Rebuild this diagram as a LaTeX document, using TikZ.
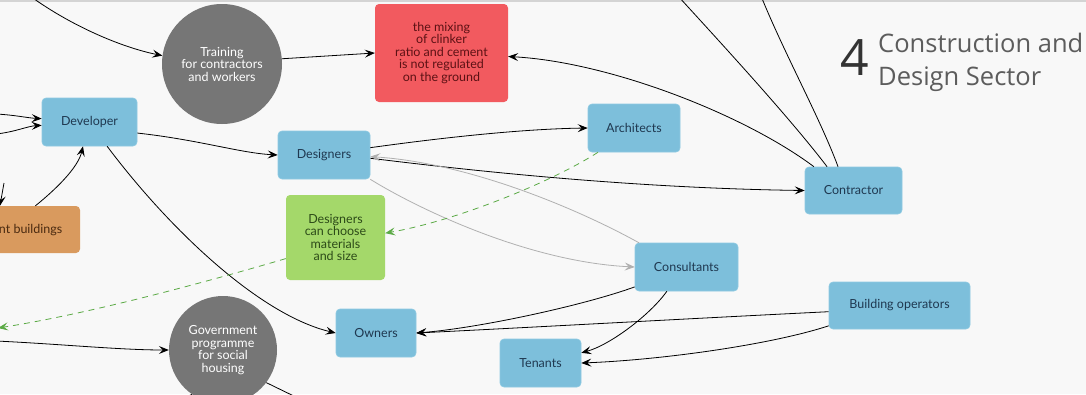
\documentclass[tikz,border=0pt]{standalone}
\usepackage{fontspec}
\setmainfont{Lato}
\newfontfamily\titlefont{Open Sans}
\usetikzlibrary{arrows.meta}
\definecolor{bg}{HTML}{F8F8F8}
\definecolor{nodeblue}{HTML}{7DBFDB}
\definecolor{nodeblueedge}{HTML}{8ECAE2}
\definecolor{navy}{HTML}{1F3850}
\definecolor{discgrey}{HTML}{767676}
\definecolor{alertred}{HTML}{F25A5F}
\definecolor{alerttext}{HTML}{5C1114}
\definecolor{leafgreen}{HTML}{A4D86A}
\definecolor{leaftext}{HTML}{2C4A18}
\definecolor{clay}{HTML}{D99A5E}
\definecolor{claytext}{HTML}{4A2A10}
\definecolor{softgrey}{HTML}{B0B0B0}
\definecolor{dashgreen}{HTML}{5BAA45}
\definecolor{titlegrey}{HTML}{5C5C5C}
\begin{document}
\begin{tikzpicture}[x=1pt,y=-1pt,
  label text/.style={font=\fontsize{12.5}{12.5}\selectfont, align=center},
  box/.style={rectangle, rounded corners=4pt, fill=nodeblue, draw=nodeblueedge,
    line width=0.6pt, text=navy, inner sep=0pt, label text},
  disc/.style={circle, fill=discgrey, text=white, inner sep=0pt, label text},
  tip/.style={-{Stealth[length=10pt,width=8pt,inset=4pt]}},
  arr/.style={tip, line width=0.8pt, black},
  faint/.style={tip, line width=0.8pt, softgrey},
  hint/.style={tip, line width=0.8pt, dashgreen, dash pattern=on 6pt off 5pt},
  plain/.style={line width=0.8pt, black}]

\useasboundingbox (0,0) rectangle (1086,394);
\clip (0,0) rectangle (1086,394);
\fill[bg] (0,0) rectangle (1086,394);
\draw[line width=2pt, black!17] (0,1) -- (1086,1);

% actors
\node[box, minimum width=95pt, minimum height=48pt] (dev) at (89.5,122) {Developer};
\node[box, minimum width=92pt, minimum height=48pt] (des) at (324,155) {Designers};
\node[box, minimum width=92pt, minimum height=48pt] (arch) at (634,128) {Architects};
\node[box, minimum width=97pt, minimum height=47pt] (contr) at (853.5,190.5) {Contractor};
\node[box, minimum width=103pt, minimum height=48pt] (cons) at (686.5,267) {Consultants};
\node[box, minimum width=141pt, minimum height=47pt] (bop) at (899.5,305.5) {Building operators};
\node[box, minimum width=80pt, minimum height=48pt] (own) at (376,333) {Owners};
\node[box, minimum width=81pt, minimum height=48pt] (ten) at (540.5,363) {Tenants};

% issues and measures
\node[rectangle, rounded corners=4pt, fill=alertred, text=alerttext, inner sep=0pt,
  minimum width=133pt, minimum height=98pt, label text] (red) at (441.5,53)
  {the mixing\\of clinker\\ratio and cement\\is not regulated\\on the ground};
\node[rectangle, rounded corners=4pt, fill=leafgreen, text=leaftext, inner sep=0pt,
  minimum width=99pt, minimum height=85pt, label text] (green) at (335.5,237.5)
  {Designers\\can choose\\materials\\and size};
\node[rectangle, rounded corners=4pt, fill=clay, inner sep=0pt,
  minimum width=140pt, minimum height=47pt] (orb) at (10,229.5) {};
\node[anchor=east, text=claytext, label text, inner sep=0pt] (orbtext) at (62.5,230) {nt buildings};
\node[disc, minimum size=120pt] (train) at (222,64) {Training\\for contractors\\and workers};
\node[disc, minimum size=108pt] (gov) at (223,350) {Government\\programme\\for social\\housing};

% heading
\node[anchor=base west, inner sep=0pt, text=black!80, font=\titlefont\fontsize{50}{50}\selectfont] (num) at (840,75) {4};
\node[anchor=base west, inner sep=0pt, text=titlegrey, font=\titlefont\fontsize{25.5}{25.5}\selectfont] (head1) at (878,52) {Construction and};
\node[anchor=base west, inner sep=0pt, text=titlegrey, font=\titlefont\fontsize{25.5}{25.5}\selectfont] (head2) at (878,85) {Design Sector};

% loose ends leading outside the frame
\coordinate (tl) at (30,-4);
\coordinate (tc1) at (678,-4);
\coordinate (tc2) at (761,-4);
\coordinate (lw1) at (-4,114);
\coordinate (lw2) at (-4,134);
\coordinate (lw3) at (4,183);
\coordinate (lw4) at (-2,328);
\coordinate (lw5) at (-4,341);
\coordinate (bt1) at (302,400);
\coordinate (bt2) at (180,400);

% connectors
\draw[arr] (tl) .. controls (70,25) and (120,47) .. (train.172);
\draw[arr] (train.5) -- (red.west);
\draw[arr] (contr.149) .. controls (745,115) and (610,62) .. (red.-3);
\draw[plain] (tc1) .. controls (720,42) and (790,118) .. (contr.138);
\draw[plain] (tc2) .. controls (785,55) and (820,118) .. (contr.123);
\draw[arr] (lw1) .. controls (15,115) and (28,118) .. (dev.176);
\draw[arr] (lw2) .. controls (15,132) and (28,126) .. (dev.-176);
\draw[arr] (orb.43) .. controls (55,190) and (78,168) .. (dev.-105);
\draw[arr] (lw3) -- (orb.113);
\draw[arr] (dev.-13) .. controls (200,140) and (240,153) .. (des.west);
\draw[arr] (dev.-54) .. controls (170,230) and (260,315) .. (own.west);
\draw[arr] (des.9) .. controls (440,138) and (520,129) .. (arch.west);
\draw[arr] (des.-4) .. controls (450,168) and (620,188) .. (contr.west);
\draw[faint] (cons.153) .. controls (580,210) and (470,163) .. (des.-2);
\draw[faint] (des.south east) .. controls (420,210) and (530,262) .. (cons.west);
\draw[hint] (arch.-146) .. controls (555,180) and (460,220) .. (green.5);
\draw[hint] (green.-157) .. controls (230,275) and (100,312) .. (lw4);
\draw[arr] (lw5) .. controls (60,344) and (120,350) .. (gov.west);
\draw[plain] (gov.-37) -- (bt1);
\draw[plain] (gov.-125) -- (bt2);
\draw[arr] (cons.-159) .. controls (585,305) and (480,328) .. (own.east);
\draw[arr] (cons.-129) .. controls (650,315) and (610,345) .. (ten.14);
\draw[arr] (bop.-175) .. controls (700,318) and (520,328) .. (own.east);
\draw[arr] (bop.-164) .. controls (770,345) and (660,360) .. (ten.east);
\end{tikzpicture}
\end{document}
